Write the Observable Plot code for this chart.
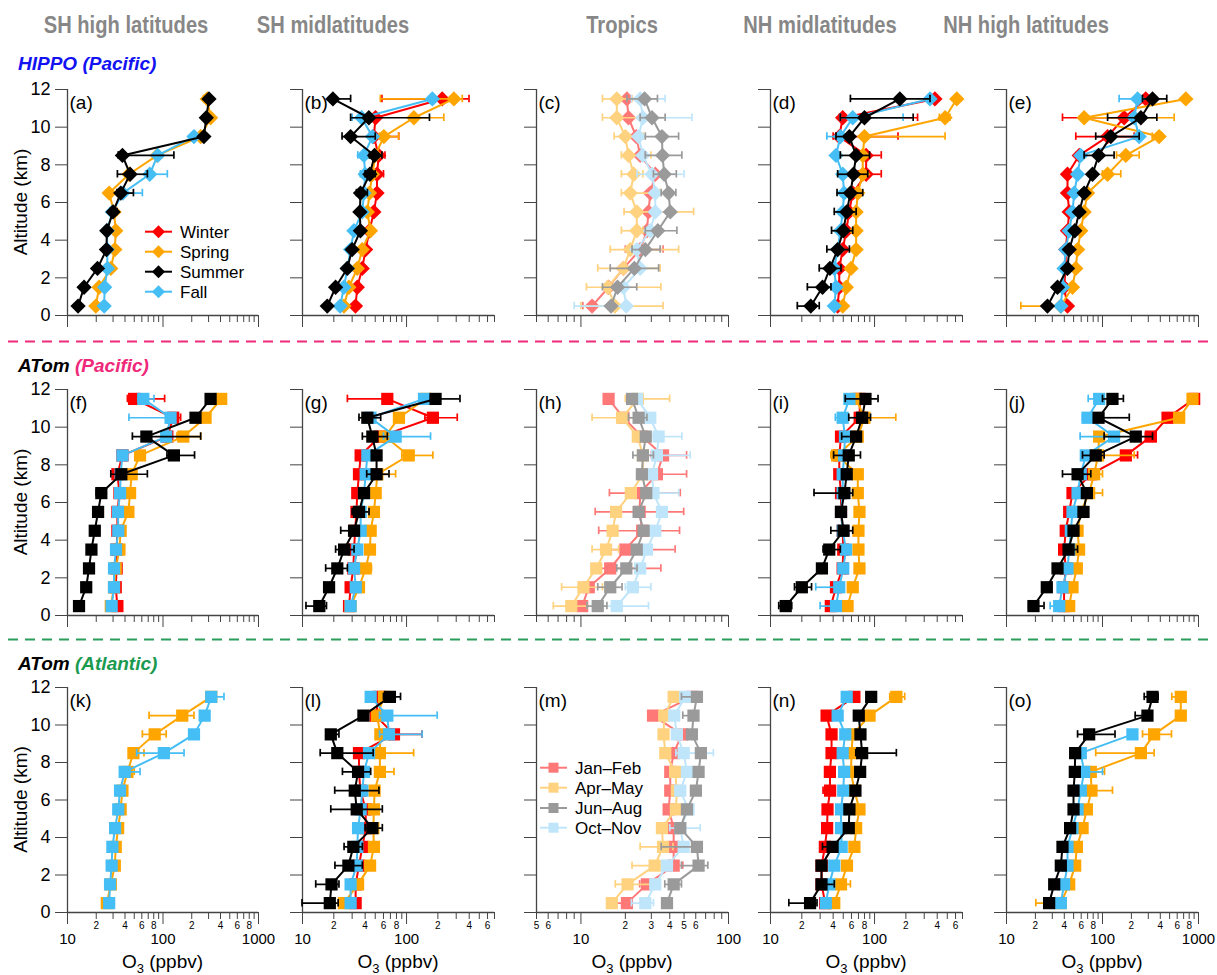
<!DOCTYPE html>
<html><head><meta charset="utf-8">
<script src="https://cdn.jsdelivr.net/npm/d3@7"></script>
<script src="https://cdn.jsdelivr.net/npm/@observablehq/plot@0.6"></script>
<style>
body{margin:0;background:#fff;font-family:"Liberation Sans",Arial,Helvetica,sans-serif;}
#fig{position:relative;width:1217px;height:975px;overflow:hidden;background:#fff;}
</style></head><body><div id="fig"></div>
<script>
// ---------------- DATA (O3 in ppbv, altitude bins 0.5 … 11.5 km, bottom to top) ----------------
const altitudes = [0.5,1.5,2.5,3.5,4.5,5.5,6.5,7.5,8.5,9.5,10.5,11.5];

const columnTitles = ["SH high latitudes","SH midlatitudes","Tropics","NH midlatitudes","NH high latitudes"];
const seasonKeys = ["winter","spring","summer","fall"];
const hippoLegend = ["Winter","Spring","Summer","Fall"];
const tropicLegend = ["Jan–Feb","Apr–May","Jun–Aug","Oct–Nov"];

// (a) HIPPO SH high
const a_spring = [19.8,21.4,28.4,31.3,32.0,30.7,27.3,44.0,87.0,248,315,290];
const a_summer = [12.9,14.9,20.6,25.6,25.8,30.0,36.1,45.2,37.6,268,284,303];
const a_fall   = [24.2,24.5,26.2,26.0,26.0,29.5,38.0,72.6,88.0,211,null,null];
const a_err = [["summer",8.5,34,130],["summer",7.5,33.3,68.6],["summer",6.5,33,49],["summer",5.5,28,33],["fall",7.5,66,111],["fall",6.5,38,60.8],["spring",11.5,265,300]];

// (b) HIPPO SH mid
const b_winter = [32.3,33.6,37.5,40.4,44.0,48.5,52.0,52.0,54.0,48.5,50.3,220];
const b_spring = [25.0,27.9,33.6,37.5,45.0,42.0,44.0,47.0,50.0,60.5,117.6,285];
const b_summer = [17.3,20.8,26.9,30.0,36.0,35.6,36.1,44.4,49.2,29.0,43.4,19.6];
const b_fall   = [23.0,25.0,27.0,29.0,31.2,37.5,39.0,40.0,38.9,47.0,37.0,177];
const b_err = [["winter",11.5,58,398],["spring",11.5,56,343],["summer",11.5,19.6,29],["spring",10.5,110,228],["summer",10.5,29,166],["fall",10.5,30,42],["winter",9.5,44,84],["spring",9.5,55,84],["summer",9.5,24,50],["winter",8.5,48,62],["fall",8.5,34,44],["summer",8.5,44,58],["winter",7.5,46,60],["fall",7.5,36,46],["summer",7.5,40,50],["summer",6.5,33,42]];

// (c) HIPPO Tropics
const c_winter = [11.9,15.4,19.4,25.2,28.0,28.7,29.5,31.9,25.2,23.7,21.0,20.5];
const c_spring = [17.0,15.2,19.4,21.6,23.9,23.9,21.6,22.8,21.0,20.0,17.5,17.5];
const c_summer = [16.0,17.7,23.0,27.3,33.2,40.3,39.3,36.7,35.7,35.4,30.3,27.0];
const c_fall   = [20.3,19.4,25.2,23.9,29.5,31.9,31.9,30.3,26.3,24.6,26.3,25.2];
const c_err = [["summer",11.5,20.5,33],["summer",10.5,25.2,37.2],["summer",9.5,27.3,45.9],["summer",8.5,27.3,48.3],["summer",7.5,31,44.3],["summer",6.5,35,44],["summer",4.5,27.3,44.7],["summer",3.5,22.2,34.4],["summer",2.5,15.8,33.6],["summer",1.5,14,23.9],
 ["spring",11.5,14,22.2],["spring",10.5,14,25.2],["spring",9.5,16.8,26.3],["spring",8.5,18.8,29.8],["spring",7.5,18.8,26.3],["spring",6.5,18.8,34.4],["spring",5.5,19.6,58],["spring",4.5,18.8,26.3],["spring",3.5,15.8,45.9],["spring",2.5,13,34.4],["spring",1.5,10.9,34.8],["spring",0.5,10,36],
 ["fall",11.5,22,37.2],["fall",10.5,25.2,56.5],["fall",7.5,24,50],["fall",0.5,9,20.3],["winter",3.5,20,36],["winter",0.5,10.3,12]];

// (d) HIPPO NH mid
const d_winter = [44.2,45.8,45.8,49.4,53.5,57.0,61.7,83.0,83.0,45.8,49.4,380];
const d_spring = [49.4,53.5,59.4,66.5,66.5,66.5,69.0,77.0,77.0,80.0,476,617];
const d_summer = [24.4,31.6,37.2,44.2,50.0,54.0,58.6,62.7,66.5,57.3,80.0,175];
const d_fall   = [41.0,42.6,41.0,44.2,47.0,49.4,51.0,49.4,42.6,47.0,61.7,341];
const d_err = [["summer",11.5,58.6,341],["summer",10.5,46.9,235],["summer",9.5,42.6,62],["summer",8.5,46.9,89.5],["summer",7.5,44.2,86],["summer",6.5,43.6,77],["summer",5.5,41,66.5],["summer",4.5,38.6,61.7],["summer",3.5,34.8,57.3],["summer",2.5,29.4,47.6],["summer",1.5,22.6,38.1],["summer",0.5,18.1,29.4],["winter",10.5,46,259],["winter",9.5,40,168],["winter",8.5,70,116],["winter",7.5,70,116],["fall",10.5,46.9,188],["fall",9.5,34.8,50],["spring",10.5,420,530],["spring",9.5,75,476]];

// (e) HIPPO NH high
const e_winter = [43.2,39.8,41.4,41.4,43.2,45.0,43.2,43.2,57.2,113,168,282];
const e_spring = [36.8,48.7,52.7,55.0,59.4,64.4,69.8,113,175,389,64.4,738];
const e_summer = [26.7,34.0,43.2,45.0,51.5,57.2,64.4,78.7,91.0,122,251,332];
const e_fall   = [36.8,38.3,39.8,41.4,45.0,48.7,50.7,55.0,59.4,241,214,232];
const e_err = [["summer",11.5,261,467],["summer",10.5,113,368],["summer",9.5,85,241],["summer",8.5,64.4,132],["spring",10.5,64.4,558],["spring",9.5,330,420],["spring",8.5,140,241],["spring",7.5,100,155],["spring",0.5,14.1,36.8],["winter",10.5,38.3,168],["winter",9.5,52.7,214],["fall",11.5,149,232]];

// (f) ATom Pacific SH high
const f_winter = [33.3,32.0,32.7,32.7,33.3,33.3,35.0,33.3,37.6,111,128,49.8];
const f_spring = [28.4,30.7,32.0,35.0,36.0,43.4,45.2,47.0,57.5,163,279,407];
const f_summer = [13.2,15.7,16.8,17.8,19.3,20.9,22.6,36.6,130,67.0,219,315];
const f_fall   = [29.0,30.7,30.7,32.2,34.0,33.8,35.5,36.0,37.6,108,120,62.2];
const f_err = [["winter",11.5,42.4,104],["fall",11.5,55,80.5],["winter",10.5,120,153],["fall",10.5,44,120],["summer",9.5,47.8,248],["spring",9.5,140,248],["summer",8.5,110,214],["summer",7.5,28.4,68.6],["summer",6.5,20,25],["summer",4.5,18,21.5]];

// (g) ATom Pacific SH mid
const g_winter = [28.0,29.0,30.8,31.3,32.0,33.0,33.6,34.9,36.2,55.0,179,65.3];
const g_spring = [29.0,34.9,40.5,44.5,45.2,48.6,50.5,52.4,105,62.0,84.5,152];
const g_summer = [14.5,18.0,21.6,25.1,31.3,34.9,39.0,51.5,51.5,46.9,42.0,190];
const g_fall   = [29.0,32.5,31.3,33.6,36.2,36.2,39.0,40.5,42.0,78.5,45.0,147];
const g_err = [["summer",11.5,170,326],["winter",11.5,27,70],["winter",10.5,150,307],["summer",10.5,34.9,56.4],["summer",9.5,37.6,65.3],["fall",9.5,60,170],["spring",8.5,90,179],["summer",7.5,41.4,67.8],["spring",7.5,45,78.5],["summer",5.5,30,43.6],["summer",4.5,23.3,34],["summer",3.5,20.8,31.3],["summer",2.5,16.7,27],["spring",2.5,36,46],["summer",0.5,10.8,17]];

// (h) ATom Pacific Tropics
const h_winter = [10.2,11.3,15.8,20.0,26.0,25.0,25.2,32.7,36.0,26.0,19.4,15.4];
const h_spring = [8.6,10.4,12.7,14.8,16.4,17.3,21.8,26.3,26.3,24.3,19.0,24.3];
const h_summer = [13.0,15.8,20.3,23.9,26.6,24.6,27.7,25.9,26.3,27.5,24.6,22.2];
const h_fall   = [17.5,22.5,25.2,28.0,31.9,35.4,31.0,30.3,32.7,33.6,29.5,24.0];
const h_err = [["spring",11.5,20,39.9],["spring",10.5,11.9,28.3],["summer",10.5,21,28],["fall",9.5,30,48.3],["winter",8.5,30,52],["fall",8.5,28,55],["summer",8.5,22.5,31],["winter",7.5,28,52],["winter",6.5,15.6,47.1],["fall",6.5,26,46],["winter",5.5,12.5,49.7],["winter",4.5,13.2,46.6],["winter",3.5,15,43.5],["spring",3.5,11.9,18],["winter",2.5,12,34.8],["summer",2.5,17.5,24],["spring",1.5,7.4,14],["fall",1.5,20,29.8],["summer",1.5,13,19],["spring",0.5,6.5,11],["fall",0.5,14,28.7],["summer",0.5,11,15]];

// (i) ATom Pacific NH mid
const i_winter = [38.0,42.6,49.4,50.0,49.4,47.6,47.6,45.8,45.8,47.6,72.0,72.0];
const i_spring = [55.0,61.7,71.6,70.0,70.0,71.6,69.0,69.0,43.6,69.0,80.0,66.5];
const i_summer = [14.0,20.0,31.2,36.7,50.4,47.6,51.3,54.0,56.5,66.5,76.0,81.8];
const i_fall   = [42.6,45.8,50.0,53.2,49.4,47.6,49.4,49.4,51.0,52.0,49.4,57.3];
const i_err = [["summer",11.5,52.3,108],["summer",10.5,56.5,91.5],["spring",10.5,70,160],["fall",10.5,42,52],["summer",9.5,48.3,72],["summer",8.5,40.4,73.2],["spring",8.5,38,47],["summer",6.5,26.2,61.7],["summer",4.5,38,61.7],["summer",3.5,32,46.9],["summer",1.5,17,24.8],["fall",1.5,27.2,48],["fall",0.5,30,45],["summer",0.5,12,16]];

// (j) ATom Pacific NH high
const j_winter = [39.8,39.8,41.4,39.8,41.4,45.0,48.7,75.5,175,319,476,901];
const j_spring = [45.0,48.7,54.0,57.0,55.0,59.4,72.6,81.8,90.0,92.3,629,866];
const j_summer = [19.1,26.3,34.0,44.3,49.9,63.4,68.7,55.0,85.0,222,91.0,127];
const j_fall   = [35.4,38.3,43.2,45.0,46.8,48.7,55.0,59.4,67.0,132,69.8,92.3];
const j_err = [["summer",11.5,100,165],["fall",11.5,71,92.3],["summer",10.5,91,190],["fall",10.5,61.9,70],["summer",9.5,104,332],["winter",9.5,280,345],["fall",9.5,58.5,132],["summer",8.5,61.9,104],["spring",8.5,80,214],["winter",8.5,160,232],["summer",7.5,38.3,75.5],["spring",7.5,75,100],["spring",6.5,68,100],["summer",3.5,40,55],["summer",0.5,17,24.6],["fall",0.5,28.5,35.4]];

// (k) ATom Atlantic SH high
const k_spring = [25.8,28.4,31.3,32.0,33.9,36.0,37.6,42.4,49.0,81.8,159,320];
const k_fall   = [27.3,27.9,29.0,29.5,31.5,34.0,35.5,39.7,102,211,273,320];
const k_err = [["fall",11.5,290,435],["spring",10.5,71.5,211],["spring",9.5,60.8,108],["spring",8.5,45,63.2],["fall",8.5,53,166],["spring",7.5,40,50],["fall",7.5,36,57.5],["fall",6.5,34,40]];

// (l) ATom Atlantic SH mid
const l_winter = [32.4,32.4,34.9,37.6,40.5,40.5,36.0,34.9,34.9,75.7,50.5,54.3];
const l_spring = [25.0,34.2,44.6,48.6,47.9,48.6,49.3,55.4,55.4,56.0,52.0,60.7];
const l_summer = [18.3,19.0,27.6,30.8,46.9,33.2,31.8,34.2,21.6,18.7,38.5,69.2];
const l_fall   = [29.0,29.0,33.2,33.6,34.2,36.2,37.6,39.0,43.6,67.8,65.3,45.2];
const l_err = [["summer",11.5,60,87.5],["fall",10.5,55,197],["winter",9.5,65,141],["fall",9.5,55,141],["summer",9.5,17,22.4],["summer",8.5,14.8,47.8],["spring",8.5,50,117],["summer",7.5,24.2,45.2],["spring",7.5,50,75.7],["summer",6.5,20.4,54.3],["summer",5.5,18.7,58.5],["summer",4.5,40,58.5],["summer",3.5,25.1,37.6],["summer",2.5,20.5,37.6],["summer",1.5,13.4,22.4],["summer",0.5,9.9,22]];

// (m) ATom Atlantic Tropics
const m_winter = [20.5,28.0,42.5,42.5,42.5,39.3,40.3,40.3,42.5,48.3,30.8,57.0];
const m_spring = [16.2,20.7,31.6,36.0,35.4,44.0,44.7,43.5,37.3,36.3,36.7,42.5];
const m_summer = [38.3,42.5,62.7,61.1,47.1,52.3,60.1,62.7,65.0,56.5,57.9,61.1];
const m_fall   = [27.3,31.9,38.3,49.7,47.1,53.6,47.1,52.3,49.7,44.7,42.9,50.9];
const m_err = [["summer",11.5,48,62],["summer",10.5,49,58],["fall",8.5,44,79],["winter",7.5,38,45],["winter",5.5,38,41],["fall",4.5,40,64.3],["spring",3.5,25.2,42],["summer",3.5,35,64],["spring",2.5,22.2,36],["summer",2.5,48,72.4],["winter",2.5,40,49],["spring",1.5,17.1,31],["summer",1.5,37,48],["winter",1.5,25,31],["winter",0.5,17,21.5],["fall",0.5,22,31]];

// (n) ATom Atlantic NH mid
const n_winter = [33.5,31.0,31.0,33.3,35.0,35.3,37.4,37.2,38.6,38.6,34.6,64.0];
const n_spring = [41.0,47.6,54.3,64.0,66.5,71.6,64.0,59.4,60.0,61.7,89.5,162];
const n_summer = [24.0,30.9,30.9,39.5,56.5,57.3,65.5,72.7,76.0,73.2,70.5,92.8];
const n_fall   = [34.0,36.7,41.0,48.3,47.6,47.6,50.0,51.0,49.4,52.3,44.2,54.0];
const n_err = [["spring",11.5,140,195],["spring",10.5,80,98],["summer",8.5,66,162],["winter",6.5,32,38],["summer",3.5,31.6,42],["winter",3.5,30,35],["summer",1.5,28,41],["spring",1.5,44,58.6],["summer",0.5,15,28]];

// (o) ATom Atlantic NH high
const o_winter = [39.8,39.8,43.2,43.2,55.0,57.0,50.7,82.0,272,261,null,null];
const o_spring = [36.8,45.0,51.9,54.1,62.0,68.7,76.8,75.5,251,345,654,654];
const o_summer = [27.8,31.4,36.8,38.3,46.0,49.9,49.9,51.5,51.9,72.6,294,332];
const o_fall   = [36.8,39.8,43.2,43.2,48.7,55.0,59.4,64.4,59.4,205,null,null];
const o_err = [["summer",11.5,272,380],["spring",11.5,527,654],["summer",10.5,219,294],["summer",9.5,55,135],["spring",9.5,261,523],["spring",8.5,85,345],["winter",8.5,260,290],["spring",7.5,70,105],["winter",7.5,78,113],["fall",7.5,60,100],["spring",6.5,70,127],["summer",4.5,43,50],["spring",0.5,20.2,36.8]];

// axis ticks
const yTicks = [0,2,4,6,8,10,12];
const xDomains = [[10,1000],[10,700],[5,100],[10,700],[10,1000]];
const xDecadeTicks = [[10,100,1000],[10,100],[10,100],[10,100],[10,100,1000]];
const xMinorTicks = [
  [20,30,40,50,60,70,80,90,200,300,400,500,600,700,800,900],
  [20,30,40,50,60,70,80,90,200,300,400,500,600,700],
  [5,6,7,8,9,20,30,40,50,60,70,80,90],
  [20,30,40,50,60,70,80,90,200,300,400,500,600,700],
  [20,30,40,50,60,70,80,90,200,300,400,500,600,700,800,900]];
const xMinorLabeled = [
  [20,40,60,80,200,400,600,800],
  [20,40,60,80,200,400,600],
  [5,6,20,30,40,50,60],
  [20,40,60,80,200,400,600],
  [20,40,60,80,200,400,600,800]];

// ---------------- STYLE / LAYOUT ----------------
const mainColors = {winter:"#ff0000", spring:"#ffa500", summer:"#000000", fall:"#45bdf5"};
const tropicColors = {winter:"#ff7878", spring:"#ffd27f", summer:"#9a9a9a", fall:"#bfe5fa"};
const drawOrder = ["winter","spring","fall","summer"];
const colX0 = [67,302,536,770,1006];
const colW  = [191,192,192,192,192];
const rowY0 = [89,389,687];
const rowH  = [226,226,225];
const ML = 62, MR = 12, MT = 15, MB = 55;
const axisColor = "#444";
const FONT = "'Liberation Sans', Arial, Helvetica, sans-serif";

const diamondSym = {draw(ctx, size){ const r = Math.sqrt(size)*0.62625; ctx.moveTo(0,-r); ctx.lineTo(r,0); ctx.lineTo(0,r); ctx.lineTo(-r,0); ctx.closePath(); }};
const squareSym = {draw(ctx, size){ const w = Math.sqrt(size)/2; ctx.rect(-w,-w,2*w,2*w); }};

const panelTable = [
  {label:"(a)", row:0, col:0, s:{winter:null, spring:a_spring, summer:a_summer, fall:a_fall}, err:a_err},
  {label:"(b)", row:0, col:1, s:{winter:b_winter, spring:b_spring, summer:b_summer, fall:b_fall}, err:b_err},
  {label:"(c)", row:0, col:2, s:{winter:c_winter, spring:c_spring, summer:c_summer, fall:c_fall}, err:c_err},
  {label:"(d)", row:0, col:3, s:{winter:d_winter, spring:d_spring, summer:d_summer, fall:d_fall}, err:d_err},
  {label:"(e)", row:0, col:4, s:{winter:e_winter, spring:e_spring, summer:e_summer, fall:e_fall}, err:e_err},
  {label:"(f)", row:1, col:0, s:{winter:f_winter, spring:f_spring, summer:f_summer, fall:f_fall}, err:f_err},
  {label:"(g)", row:1, col:1, s:{winter:g_winter, spring:g_spring, summer:g_summer, fall:g_fall}, err:g_err},
  {label:"(h)", row:1, col:2, s:{winter:h_winter, spring:h_spring, summer:h_summer, fall:h_fall}, err:h_err},
  {label:"(i)", row:1, col:3, s:{winter:i_winter, spring:i_spring, summer:i_summer, fall:i_fall}, err:i_err},
  {label:"(j)", row:1, col:4, s:{winter:j_winter, spring:j_spring, summer:j_summer, fall:j_fall}, err:j_err},
  {label:"(k)", row:2, col:0, s:{winter:null, spring:k_spring, summer:null, fall:k_fall}, err:k_err},
  {label:"(l)", row:2, col:1, s:{winter:l_winter, spring:l_spring, summer:l_summer, fall:l_fall}, err:l_err},
  {label:"(m)", row:2, col:2, s:{winter:m_winter, spring:m_spring, summer:m_summer, fall:m_fall}, err:m_err},
  {label:"(n)", row:2, col:3, s:{winter:n_winter, spring:n_spring, summer:n_summer, fall:n_fall}, err:n_err},
  {label:"(o)", row:2, col:4, s:{winter:null, spring:o_spring, summer:o_summer, fall:o_fall}, err:o_err}
];

function leadDigit(d){ return String(Math.round(d / Math.pow(10, Math.floor(Math.log10(d) + 1e-9)))); }

function buildPanel(p){
  const colors = p.col === 2 ? tropicColors : mainColors;
  const sym = p.row === 0 ? diamondSym : squareSym;
  const showX = p.row === 2;
  const cap = 0.2;
  const marks = [
    Plot.ruleY([0], {stroke: axisColor, strokeWidth: 1.3}),
    Plot.ruleX([xDomains[p.col][0]], {stroke: axisColor, strokeWidth: 1.3}),
    Plot.axisY(yTicks, {tickSize: 12, tickPadding: 5, fontSize: 18, label: null, stroke: axisColor, fill: "#000",
      tickFormat: p.col === 0 ? (d => String(d)) : (() => "")}),
    Plot.axisX(xDecadeTicks[p.col], {tickSize: 12, tickPadding: 9, fontSize: 15, label: null, stroke: axisColor, fill: "#000",
      tickFormat: d => showX ? String(d) : ""}),
    Plot.axisX(xMinorTicks[p.col], {tickSize: 7, tickPadding: 3, fontSize: 10, label: null, stroke: axisColor, fill: "#000",
      tickFormat: () => ""})
  ];
  if (showX) {
    marks.push(Plot.text(xMinorLabeled[p.col], {x: d => d, text: d => leadDigit(d), frameAnchor: "bottom", dy: 13,
      lineAnchor: "middle", textAnchor: "middle", fontSize: 10, fill: "#000"}));
  }
  for (const key of drawOrder){
    const vals = p.s[key];
    if (!vals) continue;
    const pts = altitudes.map((a,i) => ({alt:a, v:vals[i]})).filter(d => d.v != null);
    const errs = p.err.filter(e => e[0] === key).map(e => ({alt:e[1], lo:e[2], hi:e[3]}));
    marks.push(Plot.line(pts, {x:"v", y:"alt", stroke: colors[key], strokeWidth: 2}));
    marks.push(Plot.ruleY(errs, {y:"alt", x1:"lo", x2:"hi", stroke: colors[key], strokeWidth: 1.7}));
    marks.push(Plot.ruleX(errs, {x:"lo", y1: d => d.alt - cap, y2: d => d.alt + cap, stroke: colors[key], strokeWidth: 1.7}));
    marks.push(Plot.ruleX(errs, {x:"hi", y1: d => d.alt - cap, y2: d => d.alt + cap, stroke: colors[key], strokeWidth: 1.7}));
    marks.push(Plot.dot(pts, {x:"v", y:"alt", symbol: sym, r: 6.9, fill: colors[key], stroke: "none"}));
  }
  marks.push(Plot.text([p.label], {text: d => d, frameAnchor: "top-left", dx: 2, dy: 13, fontSize: 19, textAnchor: "start", lineAnchor: "middle", fill: "#000"}));
  const svg = Plot.plot({
    width: ML + colW[p.col] + MR,
    height: MT + rowH[p.row] + MB,
    marginLeft: ML, marginRight: MR, marginTop: MT, marginBottom: MB,
    x: {type: "log", domain: xDomains[p.col]},
    y: {domain: [0, 12]},
    style: {fontFamily: FONT, overflow: "visible", background: "none", color: "#000"},
    marks
  });
  svg.style.position = "absolute";
  svg.style.left = (colX0[p.col] - ML) + "px";
  svg.style.top = (rowY0[p.row] - MT) + "px";
  return svg;
}

const fig = document.getElementById("fig");
for (const p of panelTable) fig.appendChild(buildPanel(p));

// ---------------- overlay: titles, row labels, separators, axis titles, legends ----------------
const ov = d3.select(fig).append("svg")
  .attr("width", 1217).attr("height", 975)
  .style("position","absolute").style("left","0px").style("top","0px")
  .style("pointer-events","none").style("font-family", FONT);

const titleCenters = [126, 333, 622, 820, 1026];
columnTitles.forEach((t,i) => {
  ov.append("text").attr("transform", `translate(${titleCenters[i]},33) scale(0.84,1)`)
    .attr("text-anchor","middle").attr("font-size",24).attr("font-weight","bold").attr("fill","#878787").text(t);
});

const rowLabels = [
  {y:70, a:"HIPPO", aColor:"#1212f2", b:" (Pacific)", bColor:"#1212f2"},
  {y:371.5, a:"ATom", aColor:"#000", b:" (Pacific)", bColor:"#f0287a"},
  {y:670, a:"ATom", aColor:"#000", b:" (Atlantic)", bColor:"#1a9a50"}
];
rowLabels.forEach(r => {
  const t = ov.append("text").attr("x",18).attr("y",r.y).attr("font-size",19).attr("font-weight","bold").attr("font-style","italic");
  t.append("tspan").attr("fill",r.aColor).text(r.a);
  t.append("tspan").attr("fill",r.bColor).text(r.b);
});

ov.append("line").attr("x1",8).attr("x2",1212).attr("y1",341.5).attr("y2",341.5)
  .attr("stroke","#ee2a7b").attr("stroke-width",1.8).attr("stroke-dasharray","10,7");
ov.append("line").attr("x1",8).attr("x2",1212).attr("y1",639.5).attr("y2",639.5)
  .attr("stroke","#2a9d5c").attr("stroke-width",1.8).attr("stroke-dasharray","10,7");

rowY0.forEach((y0,i) => {
  const cy = y0 + rowH[i]/2;
  ov.append("text").attr("transform",`translate(27,${cy}) rotate(-90)`).attr("text-anchor","middle")
    .attr("font-size",19).attr("fill","#000").text("Altitude (km)");
});
colX0.forEach((x0,i) => {
  const cx = x0 + colW[i]/2;
  const t = ov.append("text").attr("x",cx).attr("y",968).attr("text-anchor","middle").attr("font-size",19).attr("fill","#000");
  t.append("tspan").text("O");
  t.append("tspan").attr("font-size",13).attr("dy",5).text("3");
  t.append("tspan").attr("dy",-5).text(" (ppbv)");
});

function legend(names, colors, shape, x0, ys){
  names.forEach((name,i) => {
    const key = seasonKeys[i], y = ys[i], c = colors[key];
    ov.append("line").attr("x1",x0).attr("x2",x0+27).attr("y1",y).attr("y2",y).attr("stroke",c).attr("stroke-width",2);
    if (shape === "diamond") {
      const r = 6.5, cx = x0 + 13.5;
      ov.append("path").attr("d",`M${cx},${y-r}L${cx+r},${y}L${cx},${y+r}L${cx-r},${y}Z`).attr("fill",c);
    } else {
      ov.append("rect").attr("x",x0+8.5).attr("y",y-5).attr("width",10).attr("height",10).attr("fill",c);
    }
    ov.append("text").attr("x",x0+35).attr("y",y+6).attr("font-size",17).attr("fill","#000").text(name);
  });
}
legend(hippoLegend, mainColors, "diamond", 145, [231.7,251.7,271.7,291.7]);
legend(tropicLegend, tropicColors, "square", 540, [767.7,787.7,808,827.7]);
</script>
</body></html>
